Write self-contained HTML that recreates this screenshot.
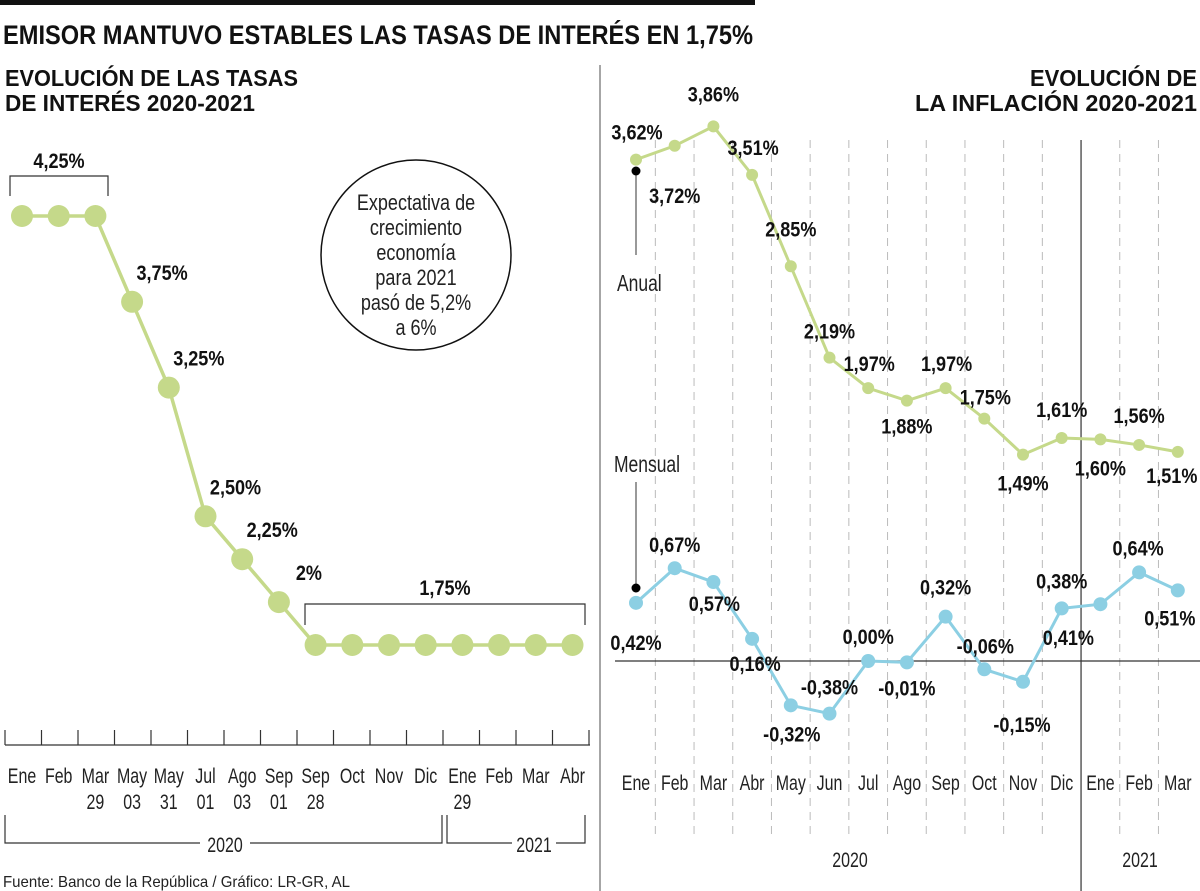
<!DOCTYPE html>
<html><head><meta charset="utf-8"><style>
html,body{margin:0;padding:0;background:#fff;}
svg{display:block;font-family:"Liberation Sans Narrow","Liberation Sans",sans-serif;}
.b{font-weight:bold;fill:#111;}
.n{fill:#222;}
</style></head><body>
<svg id="c" width="1200" height="891" viewBox="0 0 1200 891">
<rect x="0" y="0" width="755" height="5" fill="#111"/>
<text x="3" y="44" class="b" font-size="27" textLength="750" lengthAdjust="spacingAndGlyphs">EMISOR MANTUVO ESTABLES LAS TASAS DE INTERÉS EN 1,75%</text>
<text x="5" y="86" class="b" font-size="23" textLength="293" lengthAdjust="spacingAndGlyphs">EVOLUCIÓN DE LAS TASAS</text>
<text x="5" y="111" class="b" font-size="23" textLength="250" lengthAdjust="spacingAndGlyphs">DE INTERÉS 2020-2021</text>
<text x="1030" y="86" class="b" font-size="23" textLength="167" lengthAdjust="spacingAndGlyphs">EVOLUCIÓN DE</text>
<text x="915" y="111" class="b" font-size="23" textLength="282" lengthAdjust="spacingAndGlyphs">LA INFLACIÓN 2020-2021</text>
<line x1="600" y1="65" x2="600" y2="891" stroke="#888" stroke-width="1.5"/>
<g>
<circle cx="416" cy="255" r="95" fill="none" stroke="#111" stroke-width="1.5"/>
<text class="n cnd" x="416" y="210" font-size="22" text-anchor="middle">Expectativa de</text>
<text class="n cnd" x="416" y="235" font-size="22" text-anchor="middle">crecimiento</text>
<text class="n cnd" x="416" y="260" font-size="22" text-anchor="middle">economía</text>
<text class="n cnd" x="416" y="285" font-size="22" text-anchor="middle">para 2021</text>
<text class="n cnd" x="416" y="310" font-size="22" text-anchor="middle">pasó de 5,2%</text>
<text class="n cnd" x="416" y="335" font-size="22" text-anchor="middle">a 6%</text>
</g>
<text x="3" y="887" font-size="16" class="n" textLength="347" lengthAdjust="spacingAndGlyphs">Fuente: Banco de la República / Gráfico: LR-GR, AL</text>
</svg>
<script>
// Left chart data
const rateMonths = ["Ene","Feb","Mar","May","May","Jul","Ago","Sep","Sep","Oct","Nov","Dic","Ene","Feb","Mar","Abr"];
const rateDays = ["","","29","03","31","01","03","01","28","","","","29","","",""];
const rateValues = [4.25,4.25,4.25,3.75,3.25,2.50,2.25,2.00,1.75,1.75,1.75,1.75,1.75,1.75,1.75,1.75];
const rateLabels = ["","","","3,75%","3,25%","2,50%","2,25%","2%","","","","","","","",""];
// Right chart data
const inflMonths = ["Ene","Feb","Mar","Abr","May","Jun","Jul","Ago","Sep","Oct","Nov","Dic","Ene","Feb","Mar"];
const annualValues = [3.62,3.72,3.86,3.51,2.85,2.19,1.97,1.88,1.97,1.75,1.49,1.61,1.60,1.56,1.51];
const annualLabels = ["3,62%","3,72%","3,86%","3,51%","2,85%","2,19%","1,97%","1,88%","1,97%","1,75%","1,49%","1,61%","1,60%","1,56%","1,51%"];
const monthlyValues = [0.42,0.67,0.57,0.16,-0.32,-0.38,0.00,-0.01,0.32,-0.06,-0.15,0.38,0.41,0.64,0.51];
const monthlyLabels = ["0,42%","0,67%","0,57%","0,16%","-0,32%","-0,38%","0,00%","-0,01%","0,32%","-0,06%","-0,15%","0,38%","0,41%","0,64%","0,51%"];

const svg=document.getElementById('c');
const NS='http://www.w3.org/2000/svg';
function mk(tag,at,parent){const e=document.createElementNS(NS,tag);for(const k in at)e.setAttribute(k,at[k]);(parent||svg).appendChild(e);return e;}
function cond(t,x,s){t.setAttribute('transform',`translate(${x},0) scale(${s},1) translate(${-x},0)`);}
function txt(x,y,s,size,cls,anchor,parent){const t=mk('text',{x:x,y:y,'font-size':size,class:cls,'text-anchor':anchor||'middle'},parent);t.textContent=s;cond(t,x,cls==='b'?0.86:0.76);return t;}
document.querySelectorAll('.cnd').forEach(t=>cond(t,416,0.82));

// ---- Left chart
const lx=i=>22+i*36.7;
const ly=v=>645-(v-1.75)*171.6;
const gL=mk('g',{});


mk('line',{x1:5,y1:745,x2:590,y2:745,stroke:'#333','stroke-width':1.2},gL);
for(let i=0;i<=rateValues.length;i++){const x=5+i*36.5;mk('line',{x1:x,y1:730,x2:x,y2:745,stroke:'#333','stroke-width':1.2},gL);}
const ptsL=rateValues.map((v,i)=>lx(i)+','+ly(v)).join(' ');
const plL=mk('polyline',{points:ptsL,fill:'none',stroke:'#c5d98a','stroke-width':3.5},gL);


rateValues.forEach((v,i)=>{
  const c=mk('circle',{cx:lx(i),cy:ly(v),r:11,fill:'#c5d98a'},gL);
  
  
  if(rateLabels[i]){const t=txt(lx(i)+30,ly(v)-22,rateLabels[i],21,'b','middle',gL);
    
    }
  const m=txt(lx(i),783,rateMonths[i],21,'n','middle',gL);
  
  
  if(rateDays[i]){const d=txt(lx(i),809,rateDays[i],21,'n','middle',gL);
    
    }
});
// brackets
const b1y=ly(rateValues[0])-40;
mk('path',{d:`M10,${b1y+20} V${b1y} H108 V${b1y+20}`,fill:'none',stroke:'#333','stroke-width':1.2},gL);
const t1=txt(59,b1y-8,"4,25%",21,'b','middle',gL);


const b2y=ly(1.75)-41;
mk('path',{d:`M305,${b2y+21} V${b2y} H585 V${b2y+21}`,fill:'none',stroke:'#333','stroke-width':1.2},gL);
const t2=txt(445,b2y-9,"1,75%",21,'b','middle',gL);


mk('path',{d:'M5,815 V843 H200 M250,843 H442 V815',fill:'none',stroke:'#333','stroke-width':1.2},gL);
mk('path',{d:'M447,815 V843 H512 M556,843 H585 V815',fill:'none',stroke:'#333','stroke-width':1.2},gL);
const y1=txt(225,852,"2020",21,'n','middle',gL);


const y2=txt(534,852,"2021",21,'n','middle',gL);



// ---- Right chart
const rx=i=>636+i*38.7;
const ry=v=>661-v*138.5;
const gR=mk('g',{});


for(let i=0;i<inflMonths.length-1;i++){
  const x=rx(i)+19.35;
  if(i===11){mk('line',{x1:x,y1:140,x2:x,y2:891,stroke:'#333','stroke-width':1.2},gR);}
  else mk('line',{x1:x,y1:140,x2:x,y2:835,stroke:'#bbb','stroke-width':1,'stroke-dasharray':'8,6'},gR);
}
mk('line',{x1:615,y1:ry(0),x2:1200,y2:ry(0),stroke:'#333','stroke-width':1.2},gR);
const ann=mk('polyline',{points:annualValues.map((v,i)=>rx(i)+','+ry(v)).join(' '),fill:'none',stroke:'#c5d98a','stroke-width':3},gR);


const mon=mk('polyline',{points:monthlyValues.map((v,i)=>rx(i)+','+ry(v)).join(' '),fill:'none',stroke:'#8ccfe3','stroke-width':3},gR);


const annOff=[[1,-20],[0,57],[0,-25],[1,-20],[0,-30],[0,-19],[1,-17],[0,33],[1,-17],[1,-14],[0,36],[0,-21],[0,36],[0,-22],[-6,31]];
const monOff=[[0,47],[0,-16],[1,29],[3,32],[1,36],[0,-19],[0,-17],[0,33],[0,-22],[1,-16],[-1,50],[0,-20],[-32,41],[-1,-17],[-8,35]];
annualValues.forEach((v,i)=>{
  const c=mk('circle',{cx:rx(i),cy:ry(v),r:6,fill:'#c5d98a'},gR);
  
  
  const t=txt(rx(i)+annOff[i][0],ry(v)+annOff[i][1],annualLabels[i],21,'b','middle',gR);
  
  
});
monthlyValues.forEach((v,i)=>{
  const c=mk('circle',{cx:rx(i),cy:ry(v),r:7,fill:'#8ccfe3'},gR);
  
  
  const t=txt(rx(i)+monOff[i][0],ry(v)+monOff[i][1],monthlyLabels[i],21,'b','middle',gR);
  
  
});
inflMonths.forEach((m,i)=>{
  const t=txt(rx(i),790,m,21,'n','middle',gR);
  
  
});
// series annotations
mk('line',{x1:636,y1:171,x2:636,y2:255,stroke:'#333','stroke-width':1},gR);
mk('circle',{cx:636,cy:171,r:4.5,fill:'#000'},gR);
const la=txt(617,291,"Anual",23,'n','start',gR);


mk('line',{x1:636,y1:588,x2:636,y2:482,stroke:'#333','stroke-width':1},gR);
mk('circle',{cx:636,cy:588,r:4.5,fill:'#000'},gR);
const lm=txt(614,472,"Mensual",23,'n','start',gR);


const r1=txt(850,867,"2020",21,'n','middle',gR);


const r2=txt(1140,867,"2021",21,'n','middle',gR);


</script>
</body></html>
